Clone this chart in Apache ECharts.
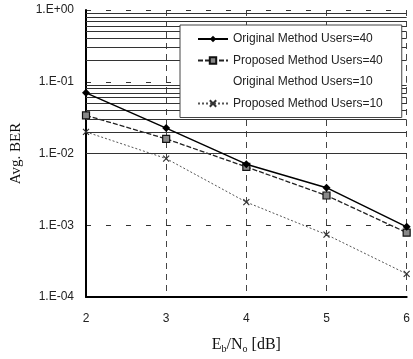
<!DOCTYPE html>
<html>
<head>
<meta charset="utf-8">
<script src="https://cdn.jsdelivr.net/npm/echarts@6/dist/echarts.min.js"></script>
<style>
  html, body { margin: 0; padding: 0; background: #fff; }
  #chart { width: 413px; height: 359px; }
</style>
</head>
<body>
<div id="chart"></div>
<script>
// Eb/No [dB]
var snr = [2, 3, 4, 5, 6]
// average BER
var original40 = [0.070, 0.0226, 0.0071, 0.00334, 0.00095]
var proposed40 = [0.034, 0.016, 0.0065, 0.0026, 0.00079]
var original10 = []
var proposed10 = [0.020, 0.0085, 0.0021, 0.00074, 0.00021]
var seriesNames = [
  'Original Method Users=40',
  'Proposed Method Users=40',
  'Original Method Users=10',
  'Proposed Method Users=10',
]
var decades = [-4, -3, -2, -1]
var minorSteps = [2, 3, 4, 5, 6, 7, 8, 9]

var chart = echarts.init(document.getElementById('chart'))

function pairs(arr) {
  return arr.map(function (v, i) {
    return [snr[i], v]
  })
}

// log minor grid lines (2..9 x 10^k)
var minorLines = []
decades.forEach(function (d) {
  minorSteps.forEach(function (m) {
    minorLines.push({ yAxis: m * Math.pow(10, d) })
  })
})

var crossPath = 'path://M0,0L10,10M10,0L0,10'

var option = {
  animation: false,
  backgroundColor: '#fff',
  grid: {
    left: 86,
    right: 0,
    top: 10,
    bottom: 55,
  },
  legend: {
    orient: 'vertical',
    left: 180,
    top: 25,
    z: 20,
    backgroundColor: '#fff',
    borderColor: '#444',
    borderWidth: 1,
    padding: [8, 19, 8, 17],
    itemGap: 9.5,
    itemWidth: 30,
    itemHeight: 8,
    textStyle: {
      fontFamily: 'Liberation Sans, Arial',
      fontSize: 12,
      color: '#222',
    },
    data: [
      { name: seriesNames[0] },
      { name: seriesNames[1] },
      { name: seriesNames[2], itemStyle: { opacity: 0 }, lineStyle: { opacity: 0 } },
      { name: seriesNames[3] },
    ],
  },
  xAxis: {
    type: 'value',
    min: 2,
    max: 6,
    interval: 1,
    name: '{a|E}{s|b}{a|/N}{s|o}{a| [dB]}',
    nameLocation: 'middle',
    nameGap: 38,
    nameTextStyle: {
      rich: {
        a: { fontFamily: 'Liberation Serif, serif', fontSize: 16, color: '#111' },
        s: { fontFamily: 'Liberation Serif, serif', fontSize: 10, color: '#111', verticalAlign: 'bottom', padding: [9, 0, 0, 0] },
      },
    },
    axisLine: { show: true, lineStyle: { color: '#000', width: 2 } },
    axisTick: { show: false },
    axisLabel: {
      margin: 16,
      fontFamily: 'Liberation Sans, Arial',
      fontSize: 12,
      color: '#222',
    },
    splitLine: {
      show: true,
      lineStyle: { color: '#444', type: [6, 5], width: 1 },
    },
  },
  yAxis: {
    type: 'log',
    logBase: 10,
    min: 0.0001,
    max: 1,
    name: 'Avg. BER',
    nameLocation: 'middle',
    nameGap: 62,
    nameTextStyle: {
      fontFamily: 'Liberation Serif, serif',
      fontSize: 15,
      color: '#111',
    },
    axisLine: { show: true, lineStyle: { color: '#000', width: 2 } },
    axisTick: { show: false },
    axisLabel: {
      margin: 12,
      fontFamily: 'Liberation Sans, Arial',
      fontSize: 12,
      color: '#222',
      formatter: function (v) {
        var e = Math.round(Math.log10(v))
        var s = Math.abs(e) < 10 ? '0' + Math.abs(e) : '' + Math.abs(e)
        return '1.E' + (e < 0 ? '-' : '+') + s
      },
    },
    splitLine: {
      show: true,
      lineStyle: { color: '#333', type: [5, 15], width: 1 },
    },
  },
  series: [
    {
      name: 'grid',
      type: 'line',
      data: [],
      silent: true,
      z: 1,
      markLine: {
        silent: true,
        symbol: 'none',
        animation: false,
        label: { show: false },
        lineStyle: { color: '#333', type: 'solid', width: 1 },
        data: minorLines,
      },
    },
    {
      name: seriesNames[0],
      type: 'line',
      data: pairs(original40),
      symbol: 'diamond',
      symbolSize: 8,
      itemStyle: { color: '#000' },
      lineStyle: { color: '#000', width: 1.5 },
      z: 5,
    },
    {
      name: seriesNames[1],
      type: 'line',
      data: pairs(proposed40),
      symbol: 'rect',
      symbolSize: 7,
      itemStyle: { color: '#888', borderColor: '#111', borderWidth: 1.2 },
      lineStyle: { color: '#222', width: 1.3, type: [5, 2] },
      z: 4,
    },
    {
      name: seriesNames[2],
      type: 'line',
      data: original10,
      symbol: 'none',
      lineStyle: { color: '#fff', width: 1 },
    },
    {
      name: seriesNames[3],
      type: 'line',
      data: pairs(proposed10),
      symbol: crossPath,
      symbolSize: 6,
      itemStyle: { color: 'none', borderColor: '#333', borderWidth: 1.2 },
      lineStyle: { color: '#555', width: 1, type: [2, 2] },
      z: 3,
    },
  ],
}

chart.setOption(option)
</script>
</body>
</html>
